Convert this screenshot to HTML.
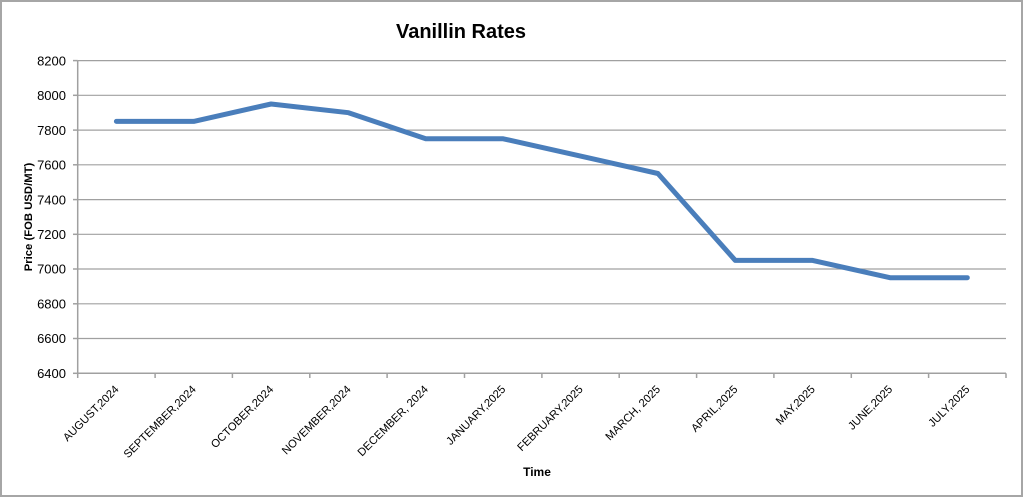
<!DOCTYPE html>
<html>
<head>
<meta charset="utf-8">
<style>
  html, body { margin:0; padding:0; background:#fff; }
  svg { display:block; }
  text { font-family: "Liberation Sans", "DejaVu Sans", sans-serif; fill:#000; }
</style>
</head>
<body>
<svg width="1024" height="498" viewBox="0 0 1024 498" xmlns="http://www.w3.org/2000/svg">
  <rect x="0" y="0" width="1024" height="498" fill="#fff"/>
  <rect x="1" y="1" width="1021" height="495" fill="none" stroke="#a6a6a6" stroke-width="2"/>

  <!-- title -->
  <text x="461" y="38" font-size="20" font-weight="bold" text-anchor="middle">Vanillin Rates</text>

  <!-- gridlines -->
  <g stroke="#a0a0a0" stroke-width="1.2">
    <line x1="77.7" y1="60.6" x2="1006" y2="60.6"/>
    <line x1="77.7" y1="95.3" x2="1006" y2="95.3"/>
    <line x1="77.7" y1="130.1" x2="1006" y2="130.1"/>
    <line x1="77.7" y1="164.8" x2="1006" y2="164.8"/>
    <line x1="77.7" y1="199.6" x2="1006" y2="199.6"/>
    <line x1="77.7" y1="234.3" x2="1006" y2="234.3"/>
    <line x1="77.7" y1="269.0" x2="1006" y2="269.0"/>
    <line x1="77.7" y1="303.8" x2="1006" y2="303.8"/>
    <line x1="77.7" y1="338.5" x2="1006" y2="338.5"/>
  </g>
  <!-- axes -->
  <g stroke="#a0a0a0" stroke-width="1.5">
    <line x1="77.7" y1="60.6" x2="77.7" y2="373.3"/>
    <line x1="77.7" y1="373.3" x2="1006" y2="373.3"/>
    <!-- y ticks -->
    <line x1="73" y1="60.6" x2="77.7" y2="60.6"/>
    <line x1="73" y1="95.3" x2="77.7" y2="95.3"/>
    <line x1="73" y1="130.1" x2="77.7" y2="130.1"/>
    <line x1="73" y1="164.8" x2="77.7" y2="164.8"/>
    <line x1="73" y1="199.6" x2="77.7" y2="199.6"/>
    <line x1="73" y1="234.3" x2="77.7" y2="234.3"/>
    <line x1="73" y1="269.0" x2="77.7" y2="269.0"/>
    <line x1="73" y1="303.8" x2="77.7" y2="303.8"/>
    <line x1="73" y1="338.5" x2="77.7" y2="338.5"/>
    <line x1="73" y1="373.3" x2="77.7" y2="373.3"/>
    <!-- x ticks -->
    <line x1="77.7" y1="373.3" x2="77.7" y2="378"/>
    <line x1="155.1" y1="373.3" x2="155.1" y2="378"/>
    <line x1="232.4" y1="373.3" x2="232.4" y2="378"/>
    <line x1="309.8" y1="373.3" x2="309.8" y2="378"/>
    <line x1="387.1" y1="373.3" x2="387.1" y2="378"/>
    <line x1="464.5" y1="373.3" x2="464.5" y2="378"/>
    <line x1="541.9" y1="373.3" x2="541.9" y2="378"/>
    <line x1="619.2" y1="373.3" x2="619.2" y2="378"/>
    <line x1="696.6" y1="373.3" x2="696.6" y2="378"/>
    <line x1="773.9" y1="373.3" x2="773.9" y2="378"/>
    <line x1="851.3" y1="373.3" x2="851.3" y2="378"/>
    <line x1="928.6" y1="373.3" x2="928.6" y2="378"/>
    <line x1="1006" y1="373.3" x2="1006" y2="378"/>
  </g>

  <!-- y labels -->
  <g font-size="13" text-anchor="end">
    <text x="66" y="65.3">8200</text>
    <text x="66" y="100">8000</text>
    <text x="66" y="134.8">7800</text>
    <text x="66" y="169.5">7600</text>
    <text x="66" y="204.3">7400</text>
    <text x="66" y="239">7200</text>
    <text x="66" y="273.7">7000</text>
    <text x="66" y="308.5">6800</text>
    <text x="66" y="343.2">6600</text>
    <text x="66" y="378">6400</text>
  </g>

  <!-- y axis title -->
  <text transform="translate(32,217) rotate(-90)" font-size="11.3" font-weight="bold" text-anchor="middle">Price (FOB USD/MT)</text>

  <!-- x labels -->
  <g font-size="11.2" text-anchor="end">
    <text transform="translate(119.4,390) rotate(-45)">AUGUST,2024</text>
    <text transform="translate(196.7,390) rotate(-45)">SEPTEMBER,2024</text>
    <text transform="translate(274.1,390) rotate(-45)">OCTOBER,2024</text>
    <text transform="translate(351.5,390) rotate(-45)">NOVEMBER,2024</text>
    <text transform="translate(428.8,390) rotate(-45)">DECEMBER, 2024</text>
    <text transform="translate(506.2,390) rotate(-45)">JANUARY,2025</text>
    <text transform="translate(583.5,390) rotate(-45)">FEBRUARY,2025</text>
    <text transform="translate(660.9,390) rotate(-45)">MARCH, 2025</text>
    <text transform="translate(738.3,390) rotate(-45)">APRIL,2025</text>
    <text transform="translate(815.6,390) rotate(-45)">MAY,2025</text>
    <text transform="translate(893,390) rotate(-45)">JUNE,2025</text>
    <text transform="translate(970.3,390) rotate(-45)">JULY,2025</text>
  </g>

  <!-- x axis title -->
  <text x="537" y="476" font-size="12" font-weight="bold" text-anchor="middle">Time</text>

  <!-- series -->
  <polyline fill="none" stroke="#4a7ebb" stroke-width="5" stroke-linejoin="round" stroke-linecap="round"
    points="116.4,121.4 193.7,121.4 271.1,104.0 348.5,112.7 425.8,138.8 503.2,138.8 580.5,156.1 657.9,173.5 735.3,260.4 812.6,260.4 890.0,277.7 967.3,277.7"/>
</svg>
</body>
</html>
